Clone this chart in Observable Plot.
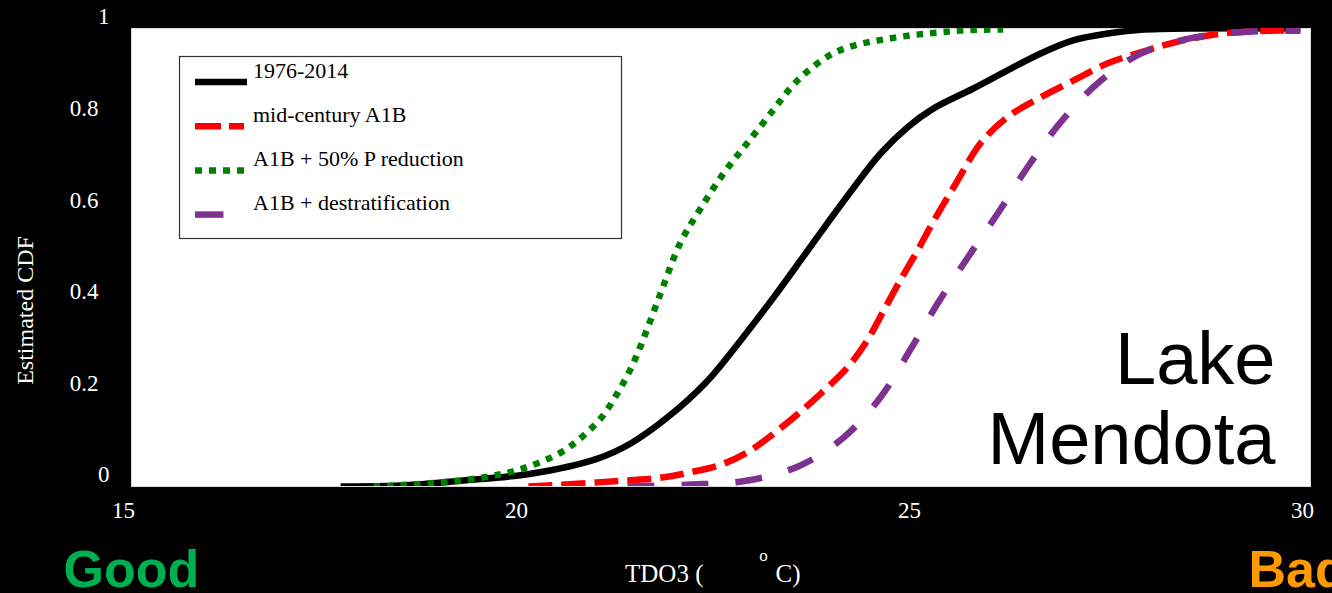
<!DOCTYPE html>
<html><head><meta charset="utf-8">
<script src="https://cdn.jsdelivr.net/npm/d3@7"></script>
<script src="https://cdn.jsdelivr.net/npm/@observablehq/plot@0.6"></script>
<style>
html,body{margin:0;padding:0;background:#000;overflow:hidden}
#wrap{position:relative;width:1332px;height:593px}
</style></head><body><div id="wrap"></div>
<script>
// ---- data ----
const seriesNames = ["1976-2014", "mid-century A1B", "A1B + 50% P reduction", "A1B + destratification"];
const seriesColors = ["#000000", "#FF0000", "#008000", "#7E3191"];

const obsT  = [17.66, 18.42, 19.22, 20.08, 20.93, 21.35, 21.82, 22.33, 22.75, 23.17, 23.51, 23.85, 24.19, 24.53, 24.87, 25.20, 25.71, 26.14, 26.56, 26.98, 27.42, 27.84, 28.60, 29.87];
const obsP  = [0.000, 0.002, 0.013, 0.028, 0.061, 0.094, 0.151, 0.231, 0.319, 0.413, 0.493, 0.574, 0.653, 0.727, 0.784, 0.825, 0.869, 0.908, 0.945, 0.974, 0.989, 0.997, 1.000, 1.000];

const a1bT  = [20.05, 20.93, 21.77, 22.11, 22.49, 22.84, 23.35, 23.77, 24.11, 24.36, 24.57, 24.78, 25.00, 25.20, 25.51, 25.80, 26.14, 26.56, 26.98, 27.42, 27.84, 28.26, 28.82, 29.45, 29.87];
const a1bP  = [0.000, 0.009, 0.020, 0.031, 0.047, 0.075, 0.140, 0.203, 0.260, 0.319, 0.384, 0.450, 0.515, 0.578, 0.668, 0.749, 0.806, 0.849, 0.886, 0.924, 0.948, 0.969, 0.988, 0.995, 0.995];

const pRedT = [18.08, 18.80, 19.48, 19.97, 20.46, 20.75, 20.99, 21.18, 21.34, 21.48, 21.73, 21.98, 22.24, 22.53, 22.84, 23.17, 23.38, 23.61, 23.92, 24.24, 24.57, 24.91, 25.25, 25.59, 26.09];
const pRedP = [0.000, 0.007, 0.020, 0.039, 0.074, 0.111, 0.153, 0.203, 0.253, 0.308, 0.421, 0.531, 0.607, 0.683, 0.751, 0.823, 0.869, 0.908, 0.945, 0.965, 0.976, 0.985, 0.991, 0.996, 0.998];

const destT = [21.31, 22.07, 22.84, 23.51, 24.06, 24.53, 24.91, 25.25, 25.64, 26.02, 26.40, 26.82, 27.29, 27.84, 28.51, 29.20, 29.87];
const destP = [0.000, 0.004, 0.013, 0.046, 0.107, 0.195, 0.299, 0.398, 0.500, 0.596, 0.697, 0.795, 0.880, 0.945, 0.980, 0.993, 0.995];

const xTicks = [15, 20, 25, 30];
const xTickLabels = ["15", "20", "25", "30"];
const yTicksDec = [0.2, 0.4, 0.6, 0.8];
const yTicksDecLabels = ["0.2", "0.4", "0.6", "0.8"];
const yTicksInt = [0, 1];
const yTicksIntLabels = ["0", "1"];

// ---- build table ----
const seriesT = [obsT, a1bT, pRedT, destT];
const seriesP = [obsP, a1bP, pRedP, destP];
const rows = [];
seriesNames.forEach((name, s) => seriesT[s].forEach((t, i) => rows.push({series: name, t, p: seriesP[s][i]})));

const styles = [
  {strokeWidth: 6.5, strokeDasharray: null},
  {strokeWidth: 6.5, strokeDasharray: "24,9"},
  {strokeWidth: 6.5, strokeDasharray: "6.5,7"},
  {strokeWidth: 6.5, strokeDasharray: "27,27"}
];

const serif = "'Liberation Serif', 'Times New Roman', serif";
const sans = "'Liberation Sans', Arial, sans-serif";

const lineMarks = seriesNames.map((name, s) => Plot.line(rows.filter(r => r.series === name), {
  x: "t", y: "p", stroke: seriesColors[s], strokeWidth: styles[s].strokeWidth,
  strokeDasharray: styles[s].strokeDasharray, strokeLinecap: "butt", curve: "catmull-rom", clip: true
}));

const chart = Plot.plot({
  width: 1332, height: 593,
  marginLeft: 131, marginRight: 22, marginTop: 28, marginBottom: 107,
  style: {background: "black", color: "white", fontFamily: serif, overflow: "visible"},
  x: {domain: [15, 30]},
  y: {domain: [0, 1]},
  marks: [
    Plot.frame({fill: "white", stroke: "#d8d8d8", strokeWidth: 1}),
    ...lineMarks,
    Plot.axisX(xTicks, {tickSize: 0, tickPadding: 15, dx: -8, fontSize: 23, fill: "white", fontFamily: serif, tickFormat: (d, i) => xTickLabels[i], label: null}),
    Plot.axisY(yTicksDec, {tickSize: 0, tickPadding: 33, dy: -11.5, fontSize: 23, fill: "white", fontFamily: serif, tickFormat: (d, i) => yTicksDecLabels[i], label: null}),
    Plot.axisY(yTicksInt, {tickSize: 0, tickPadding: 22, dy: -11.5, fontSize: 23, fill: "white", fontFamily: serif, tickFormat: (d, i) => yTicksIntLabels[i], label: null}),
    Plot.text(["Estimated CDF"], {text: d => d, frameAnchor: "left", dx: -106, dy: 53, rotate: -90, textAnchor: "middle", lineAnchor: "middle", fontSize: 24, fill: "white", fontFamily: serif}),
    Plot.text(["TDO3 ("], {text: d => d, frameAnchor: "bottom", dx: -17.5, dy: 95, textAnchor: "end", lineAnchor: "bottom", fontSize: 25, fill: "white", fontFamily: serif}),
    Plot.text(["o"], {text: d => d, frameAnchor: "bottom", dx: 42.5, dy: 74, textAnchor: "middle", lineAnchor: "bottom", fontSize: 17, fill: "white", fontFamily: serif}),
    Plot.text(["C)"], {text: d => d, frameAnchor: "bottom", dx: 54.5, dy: 95, textAnchor: "start", lineAnchor: "bottom", fontSize: 25, fill: "white", fontFamily: serif}),
    Plot.text(["Lake\nMendota"], {text: d => d, frameAnchor: "bottom-right", dx: -35, dy: -23, textAnchor: "end", lineAnchor: "bottom", lineHeight: 1.08, fontSize: 74, fill: "black", fontFamily: sans}),
    Plot.text(["Good"], {text: d => d, frameAnchor: "bottom-left", dx: -68, dy: 100, textAnchor: "start", lineAnchor: "bottom", fontSize: 52, fontWeight: "bold", fill: "#00B050", fontFamily: sans}),
    Plot.text(["Bad"], {text: d => d, frameAnchor: "bottom-right", dx: -62, dy: 100, textAnchor: "start", lineAnchor: "bottom", fontSize: 52, fontWeight: "bold", fill: "#FF9900", fontFamily: sans})
  ]
});
document.getElementById("wrap").appendChild(chart);

// ---- legend box inside the plot area ----
const svg = d3.select(chart);
const lg = svg.append("g").attr("transform", "translate(179.5,56.5)");
lg.append("rect").attr("width", 442).attr("height", 182).attr("fill", "white").attr("stroke", "#333").attr("stroke-width", 1.2);
seriesNames.forEach((name, s) => {
  const yl = 25.5 + s * 44.2;
  lg.append("line").attr("x1", 15.5).attr("x2", s === 3 ? 44 : s === 0 ? 67.5 : 64.5).attr("y1", yl).attr("y2", yl)
    .attr("stroke", seriesColors[s]).attr("stroke-width", styles[s].strokeWidth)
    .attr("stroke-dasharray", s === 1 ? "26,8" : s === 2 ? "7,7" : null)
    .attr("stroke-linecap", "butt");
  lg.append("text").attr("x", 73.5).attr("y", yl - 4.5).attr("fill", "black")
    .attr("text-anchor", "start")
    .attr("font-family", serif).attr("font-size", 22).text(name);
});
</script>
</body></html>
